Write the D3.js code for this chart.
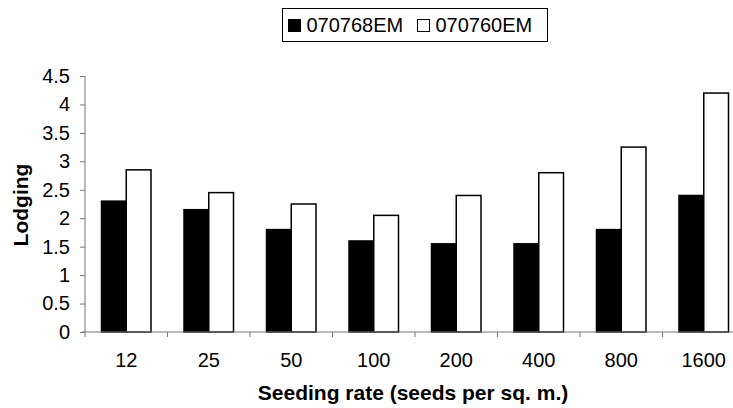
<!DOCTYPE html>
<html>
<head>
<meta charset="utf-8">
<script src="https://cdn.jsdelivr.net/npm/d3@7"></script>
<style>
  body { margin: 0; background: #fff; }
  svg text { font-family: "Liberation Sans", Arial, sans-serif; fill: #000; }
</style>
</head>
<body>
<div id="chart"></div>
<script>
// data
var rates = ["12", "25", "50", "100", "200", "400", "800", "1600"];
var seriesNames = ["070768EM", "070760EM"];
var lodging768 = [2.3, 2.15, 1.8, 1.6, 1.55, 1.55, 1.8, 2.4];
var lodging760 = [2.85, 2.45, 2.25, 2.05, 2.4, 2.8, 3.25, 4.2];
var yTicks = [0, 0.5, 1, 1.5, 2, 2.5, 3, 3.5, 4, 4.5];
var fills = ["#000000", "#ffffff"];

var svg = d3.select("#chart")
    .append("svg")
    .attr("width", 733)
    .attr("height", 408);

var margin = {top: 76, left: 85},
    plotW = 660,
    plotH = 256;

var g = svg.append("g")
    .attr("transform", "translate(" + margin.left + "," + margin.top + ")");

var x = d3.scaleBand()
    .domain(rates)
    .range([0, plotW])
    .paddingInner(0.4)
    .paddingOuter(0.2);

var xSub = d3.scaleBand()
    .domain(seriesNames)
    .range([0, x.bandwidth()]);

var y = d3.scaleLinear()
    .domain([0, 4.5])
    .range([plotH, 0]);

var rows = rates.map(function(r, i) {
  return {rate: r, values: [lodging768[i], lodging760[i]]};
});

// bars
var groups = g.selectAll(".grp")
    .data(rows)
    .enter().append("g")
    .attr("class", "grp")
    .attr("transform", function(d) { return "translate(" + x(d.rate) + ",0)"; });

groups.selectAll("rect")
    .data(function(d) { return d.values.map(function(v, k) { return {k: k, v: v}; }); })
    .enter().append("rect")
    .attr("x", function(d) { return xSub(seriesNames[d.k]); })
    .attr("width", xSub.bandwidth())
    .attr("y", function(d) { return y(d.v); })
    .attr("height", function(d) { return plotH - y(d.v); })
    .style("fill", function(d) { return fills[d.k]; })
    .style("stroke", "#000")
    .style("stroke-width", 1.5);

// y axis
var yAxis = d3.axisLeft(y)
    .tickValues(yTicks)
    .tickSize(5)
    .tickPadding(10)
    .tickFormat(function(d) { return d; });

var ya = g.append("g").attr("class", "y axis").call(yAxis);
ya.select(".domain").attr("stroke", "#777").attr("d", "M0," + (plotH + 5) + "V0");
ya.selectAll(".tick line").attr("stroke", "#777");
ya.selectAll("text").style("font-size", "20px");

// x axis, ticks between categories
var xa = g.append("g").attr("class", "x axis")
    .attr("transform", "translate(0," + plotH + ")");
xa.append("line")
    .attr("x1", -3).attr("x2", plotW)
    .attr("stroke", "#777");
xa.selectAll(".sep")
    .data(rates.slice(1))
    .enter().append("line")
    .attr("class", "sep")
    .attr("x1", function(d) { return x(d) - x.step() * x.paddingInner() / 2; })
    .attr("x2", function(d) { return x(d) - x.step() * x.paddingInner() / 2; })
    .attr("y1", 0).attr("y2", 5)
    .attr("stroke", "#777");
xa.selectAll(".lbl")
    .data(rates)
    .enter().append("text")
    .attr("class", "lbl")
    .attr("x", function(d) { return x(d) + x.bandwidth() / 2; })
    .attr("y", 35)
    .attr("text-anchor", "middle")
    .style("font-size", "20px")
    .text(function(d) { return d; });

// axis titles
svg.append("text")
    .attr("x", 413)
    .attr("y", 400)
    .attr("text-anchor", "middle")
    .style("font-size", "21px")
    .style("font-weight", "bold")
    .text("Seeding rate (seeds per sq. m.)");

svg.append("text")
    .attr("transform", "translate(28,205) rotate(-90)")
    .attr("text-anchor", "middle")
    .style("font-size", "21px")
    .style("font-weight", "bold")
    .text("Lodging");

// legend
var leg = svg.append("g").attr("transform", "translate(282,8)");
leg.append("rect")
    .attr("x", 0.5).attr("y", 0.5)
    .attr("width", 265).attr("height", 33)
    .style("fill", "#fff").style("stroke", "#000").style("stroke-width", 1);
var items = leg.selectAll(".item")
    .data(seriesNames)
    .enter().append("g")
    .attr("class", "item")
    .attr("transform", function(d, i) { return "translate(" + (6 + i * 129) + ",0)"; });
items.append("rect")
    .attr("x", 0.5).attr("y", 11.5)
    .attr("width", 12).attr("height", 12)
    .style("fill", function(d, i) { return fills[i]; })
    .style("stroke", "#000").style("stroke-width", 1);
items.append("text")
    .attr("x", 18.5).attr("y", 24)
    .style("font-size", "20px")
    .text(function(d) { return d; });
</script>
</body>
</html>
